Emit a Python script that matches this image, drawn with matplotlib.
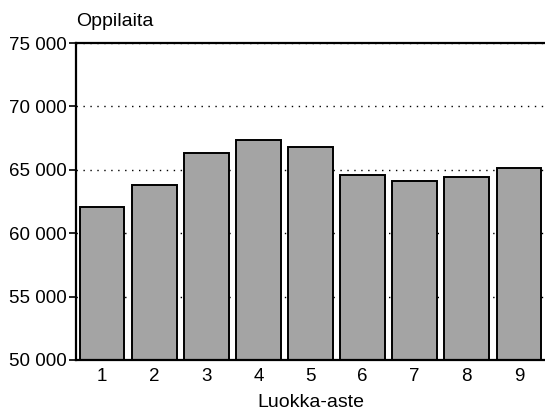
import matplotlib
matplotlib.use("Agg")
import matplotlib.pyplot as plt

plt.rcParams['font.family'] = ['Liberation Sans', 'DejaVu Sans']

# data
grades = [1, 2, 3, 4, 5, 6, 7, 8, 9]
pupils = [62050, 63800, 66300, 67350, 66800, 64600, 64150, 64450, 65150]
y_ticks = [50000, 55000, 60000, 65000, 70000, 75000]
y_labels = ["50 000", "55 000", "60 000", "65 000", "70 000", "75 000"]

fig = plt.figure(figsize=(5.45, 4.12), dpi=100)
ax = fig.add_axes([76 / 545, 1 - 360 / 412, 1 - 76 / 545, (360 - 43) / 412])

# dotted grid behind bars
ax.set_axisbelow(True)
ax.yaxis.grid(True, linestyle=(0, (1, 4)), color='black', linewidth=1.0)

ax.bar(grades, [p - 50000 for p in pupils], bottom=50000, width=0.86,
       color='#a4a4a4', edgecolor='black', linewidth=1.4)

ax.set_xlim(0.5, 9.5)
ax.set_ylim(50000, 75000)
ax.set_yticks(y_ticks)
ax.set_yticklabels(y_labels)
ax.set_xticks(grades)
ax.set_xticklabels([str(g) for g in grades])

ax.tick_params(axis='y', direction='out', length=5, width=1.2, labelsize=13.5, pad=2)
ax.tick_params(axis='x', length=0, labelsize=13.5, pad=6)

for side in ['left', 'top', 'bottom']:
    ax.spines[side].set_linewidth(1.6)
ax.spines['right'].set_visible(False)

fig.text(76 / 545, 1 - 22 / 412, "Oppilaita", fontsize=14, ha='left', va='center')
ax.set_xlabel("Luokka-aste", fontsize=14)
ax.xaxis.set_label_coords(0.5, -(394 - 360) / 317)

fig.savefig("out.png", dpi=100)
